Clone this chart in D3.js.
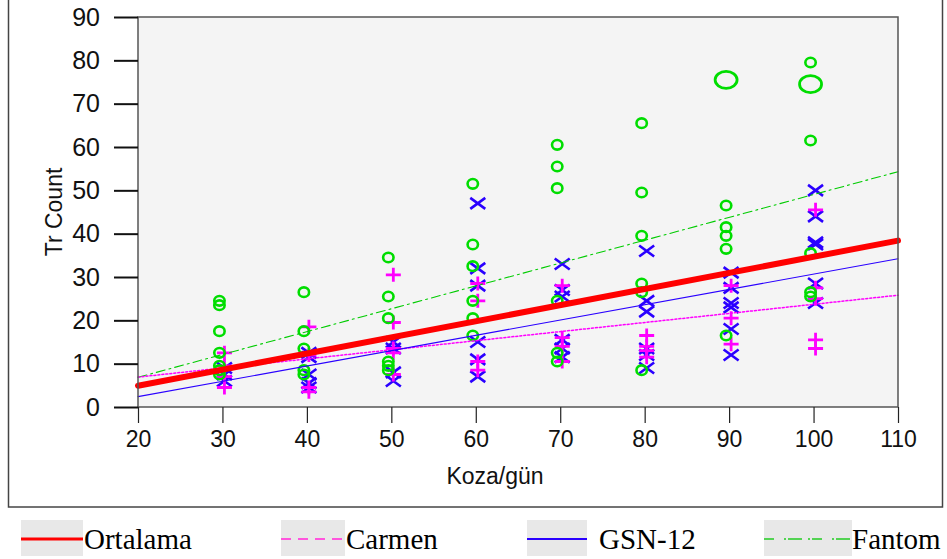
<!DOCTYPE html>
<html>
<head>
<meta charset="utf-8">
<script src="https://cdnjs.cloudflare.com/ajax/libs/d3/7.8.5/d3.min.js"></script>
<style>
  body { margin: 0; background: #fff; }
  svg { display: block; }
</style>
</head>
<body>
<svg width="947" height="559"></svg>
<script>
// koza/gün values on the x axis
var kozaGun = [30, 40, 50, 60, 70, 80, 90, 100];

// Tr Count per koza/gün, one inner list per x value
var fantom = [
  [24.5, 23.5, 17.5, 12.5, 9.5, 8.5, 7.5],
  [26.5, 17.5, 13.5, 8.5, 7.5],
  [34.5, 25.5, 20.5, 10.5, 9.5, 8.5],
  [51.5, 37.5, 32.5, 24.5, 20.5, 16.5],
  [60.5, 55.5, 50.5, 24.5, 12.5, 10.5],
  [65.5, 49.5, 39.5, 28.5, 26.5, 8.5],
  [46.5, 41.5, 39.5, 36.5, 16.5],
  [79.5, 61.5, 35.5, 26.5, 25.5]
];
var gsn12 = [
  [9, 7.5, 6],
  [12.5, 11.5, 7.5, 5.5, 4.5],
  [15, 13.5, 8, 6],
  [47, 32, 28, 15, 11, 7],
  [33, 27, 25.5, 15.5, 13.5, 11.5],
  [36, 24.5, 22, 13.5, 12, 9],
  [31, 27.5, 24, 23, 18, 12],
  [50, 44, 38, 37.5, 28.5, 24]
];
var carmen = [
  [12.5, 9.5, 7, 4.5],
  [18.5, 12, 4.5, 3.5],
  [30.5, 19.5, 13.5, 12.5, 7.5],
  [28.5, 24.5, 10.5, 8.5],
  [28, 16, 14, 10.5],
  [16.5, 14, 13, 11.5],
  [28, 20.5, 14.5],
  [45.5, 27.5, 25, 15.5, 13.5]
];

// the two large Fantom markers
var fantomBuyukKoza = [90, 100];
var fantomBuyukDeger = [75.5, 74.5];

// fitted lines, values at the ends of the x range
var trendX = [20, 110];
var ortalamaFit = [4.9, 38.4];
var carmenFit = [6.9, 25.8];
var gsn12Fit = [2.4, 34.2];
var fantomFit = [6.85, 54.3];

var seriesNames = ["Ortalama", "Carmen", "GSN-12", "Fantom"];
var xTicks = [20, 30, 40, 50, 60, 70, 80, 90, 100, 110];
var yTicks = [0, 10, 20, 30, 40, 50, 60, 70, 80, 90];

var svg = d3.select("svg"),
    margin = {top: 17, left: 138},
    width = 760,
    height = 390;

// outer frame
svg.append("rect")
    .attr("x", 8.5).attr("y", -1)
    .attr("width", 934).attr("height", 508)
    .attr("fill", "#fff")
    .attr("stroke", "#444")
    .attr("stroke-width", 1.5);

var g = svg.append("g").attr("transform", "translate(" + margin.left + "," + margin.top + ")");

var x = d3.scaleLinear().domain([20, 110]).range([0, width]);
var y = d3.scaleLinear().domain([0, 90]).range([height, 0]);

g.append("rect")
    .attr("width", width).attr("height", height)
    .attr("fill", "#f4f4f4");

// points
var jitter = {fantom: -3, other: 2};

function flat(list) {
  var out = [];
  list.forEach(function(vals, i) {
    vals.forEach(function(v) { out.push({k: kozaGun[i], v: v}); });
  });
  return out;
}

g.selectAll(".gsn").data(flat(gsn12)).enter().append("path")
    .attr("class", "gsn")
    .attr("transform", function(d) { return "translate(" + (x(d.k) + jitter.other) + "," + y(d.v) + ")"; })
    .attr("d", "M-7.5,-5.5L7.5,5.5M-7.5,5.5L7.5,-5.5")
    .attr("stroke", "#2a00ff")
    .attr("stroke-width", 2.6)
    .attr("fill", "none");

g.selectAll(".carmen").data(flat(carmen)).enter().append("path")
    .attr("class", "carmen")
    .attr("transform", function(d) { return "translate(" + (x(d.k) + jitter.other) + "," + y(d.v) + ")"; })
    .attr("d", "M-7.5,0H7.5M0,-7V7")
    .attr("stroke", "#ff00ff")
    .attr("stroke-width", 2.8)
    .attr("fill", "none");

g.selectAll(".fantom").data(flat(fantom)).enter().append("ellipse")
    .attr("class", "fantom")
    .attr("cx", function(d) { return x(d.k) + jitter.fantom; })
    .attr("cy", function(d) { return y(d.v); })
    .attr("rx", 5.2).attr("ry", 4.8)
    .attr("fill", "none")
    .attr("stroke", "#00dd00")
    .attr("stroke-width", 2.6);

g.selectAll(".fantomBig").data(fantomBuyukKoza).enter().append("ellipse")
    .attr("cx", function(d) { return x(d) + jitter.fantom; })
    .attr("cy", function(d, i) { return y(fantomBuyukDeger[i]); })
    .attr("rx", 11).attr("ry", 8.5)
    .attr("fill", "none")
    .attr("stroke", "#00dd00")
    .attr("stroke-width", 2.8);

// fitted lines
var line = d3.line()
    .x(function(d, i) { return x(trendX[i]); })
    .y(function(d) { return y(d); });

var fits = [
  {vals: fantomFit, color: "#00cc00", w: 1.1, dash: "9,4,2,4"},
  {vals: carmenFit, color: "#ff00ff", w: 1.5, dash: "2,2"},
  {vals: gsn12Fit, color: "#2a00ff", w: 1.1, dash: null},
  {vals: ortalamaFit, color: "#ff0000", w: 6, dash: null}
];
fits.forEach(function(f) {
  g.append("path")
      .datum(f.vals)
      .attr("fill", "none")
      .attr("stroke", f.color)
      .attr("stroke-width", f.w)
      .attr("stroke-dasharray", f.dash)
      .attr("stroke-linecap", "round")
      .attr("d", line);
});

// plot border
g.append("rect")
    .attr("width", width).attr("height", height)
    .attr("fill", "none")
    .attr("stroke", "#555")
    .attr("stroke-width", 1.5);

// axes
var yAxis = g.append("g")
    .call(d3.axisLeft(y).tickValues(yTicks).tickSize(24).tickPadding(14));
yAxis.select(".domain").remove();
yAxis.selectAll("line").attr("stroke", "#111").attr("stroke-width", 2);
yAxis.selectAll("text")
    .attr("font-family", "Arial, 'Liberation Sans', sans-serif")
    .attr("font-size", 25)
    .attr("fill", "#111");

var xAxis = g.append("g")
    .attr("transform", "translate(0," + height + ")")
    .call(d3.axisBottom(x).tickValues(xTicks).tickSize(16).tickPadding(8));
xAxis.select(".domain").remove();
xAxis.selectAll("line").attr("stroke", "#222").attr("stroke-width", 1.2);
xAxis.selectAll("text")
    .attr("font-family", "Arial, 'Liberation Sans', sans-serif")
    .attr("font-size", 23)
    .attr("fill", "#111");

svg.append("text")
    .attr("transform", "translate(62,212) rotate(-90)")
    .attr("text-anchor", "middle")
    .attr("font-family", "Arial, 'Liberation Sans', sans-serif")
    .attr("font-size", 23)
    .attr("fill", "#111")
    .text("Tr Count");

svg.append("text")
    .attr("x", 495).attr("y", 484)
    .attr("text-anchor", "middle")
    .attr("font-family", "Arial, 'Liberation Sans', sans-serif")
    .attr("font-size", 23)
    .attr("fill", "#111")
    .text("Koza/gün");

// legend
var legendBox = [[21, 62], [281, 64], [527, 60], [764, 88]];
var legendTextX = [84, 346, 599, 852];
var legendStyle = [
  {color: "#ff0000", w: 3, dash: null},
  {color: "#ff55dd", w: 2, dash: "10,7"},
  {color: "#2a00ff", w: 2, dash: null},
  {color: "#22cc22", w: 1.5, dash: "10,10,2,2,14,6,2,2"}
];
var legend = svg.append("g");
seriesNames.forEach(function(name, i) {
  var b = legendBox[i], s = legendStyle[i];
  legend.append("rect")
      .attr("x", b[0]).attr("y", 520)
      .attr("width", b[1]).attr("height", 36)
      .attr("fill", "#e8e8e8");
  legend.append("line")
      .attr("x1", b[0]).attr("x2", b[0] + b[1])
      .attr("y1", 539).attr("y2", 539)
      .attr("stroke", s.color)
      .attr("stroke-width", s.w)
      .attr("stroke-dasharray", s.dash);
  legend.append("text")
      .attr("x", legendTextX[i]).attr("y", 549)
      .attr("font-family", "'Liberation Serif', 'Times New Roman', serif")
      .attr("font-size", 29)
      .attr("fill", "#000")
      .text(name);
});
</script>
</body>
</html>
